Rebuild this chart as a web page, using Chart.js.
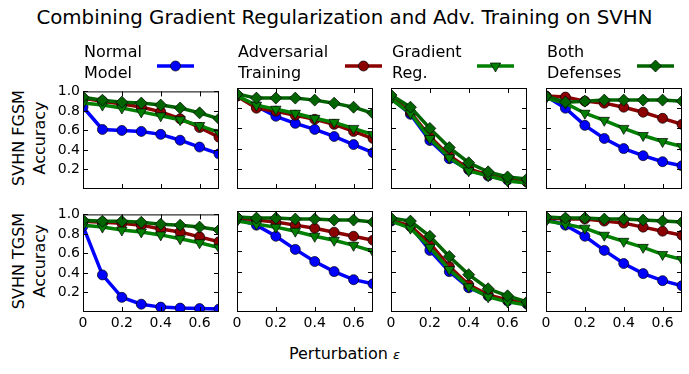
<!DOCTYPE html>
<html>
<head>
<meta charset="utf-8">
<script src="https://cdn.jsdelivr.net/npm/chart.js@4.4.0/dist/chart.umd.min.js"></script>
<style>
  body { margin: 0; background: #fff; }
  #fig { position: relative; width: 689px; height: 374px; overflow: hidden; font-family: "DejaVu Sans", sans-serif; color: #000; }
  .abs { position: absolute; white-space: nowrap; }
  .title { font-size: 19.8px; left: 0; width: 689px; text-align: center; top: 6px; line-height: 24px; }
  .leg { font-size: 16px; line-height: 20.6px; top: 42px; }
  .ylab { font-size: 16px; line-height: 21px; text-align: center; width: 200px; height: 42px; transform: rotate(-90deg); }
  .xlab { font-size: 16px; left: 0; width: 689px; text-align: center; top: 344px; line-height: 20px; }
  canvas { position: absolute; }
</style>
</head>
<body>
<div id="fig">
  <div class="abs title">Combining Gradient Regularization and Adv. Training on SVHN</div>
  <div class="abs ylab" style="left:-71.5px; top:117px;">SVHN FGSM<br>Accuracy</div>
  <div class="abs ylab" style="left:-71.5px; top:240px;">SVHN TGSM<br>Accuracy</div>
  <div class="abs xlab">Perturbation <i style="font-size:13px">ε</i></div>
</div>
<script>
const epsilons = [0, 0.1, 0.2, 0.3, 0.4, 0.5, 0.6, 0.7];
const xTicks = [0, 0.2, 0.4, 0.6];
const yTicks = [0.2, 0.4, 0.6, 0.8, 1.0];
const modelNames = ["Normal\nModel", "Adversarial\nTraining", "Gradient\nReg.", "Both\nDefenses"];

// each panel: [normal, adversarial, gradient reg, both] accuracy per epsilon
const fgsmFromNormal = [
  [0.84, 0.61, 0.60, 0.59, 0.56, 0.50, 0.43, 0.36],
  [0.93, 0.90, 0.87, 0.84, 0.79, 0.72, 0.63, 0.53],
  [0.88, 0.86, 0.83, 0.79, 0.75, 0.71, 0.65, 0.58],
  [0.94, 0.91, 0.89, 0.88, 0.86, 0.83, 0.78, 0.72],
];
const fgsmFromAdv = [
  [0.92, 0.82, 0.72, 0.65, 0.59, 0.52, 0.44, 0.36],
  [0.92, 0.80, 0.77, 0.73, 0.69, 0.64, 0.57, 0.50],
  [0.92, 0.83, 0.79, 0.75, 0.70, 0.66, 0.60, 0.54],
  [0.94, 0.90, 0.90, 0.90, 0.88, 0.85, 0.81, 0.75],
];
const fgsmFromGrad = [
  [0.90, 0.74, 0.48, 0.30, 0.19, 0.13, 0.09, 0.07],
  [0.91, 0.76, 0.52, 0.33, 0.20, 0.14, 0.10, 0.07],
  [0.89, 0.75, 0.50, 0.31, 0.18, 0.13, 0.08, 0.06],
  [0.93, 0.81, 0.60, 0.41, 0.26, 0.17, 0.12, 0.10],
];
const fgsmFromBoth = [
  [0.92, 0.80, 0.63, 0.50, 0.40, 0.33, 0.27, 0.23],
  [0.92, 0.91, 0.87, 0.85, 0.81, 0.76, 0.70, 0.64],
  [0.90, 0.85, 0.75, 0.68, 0.60, 0.53, 0.47, 0.42],
  [0.92, 0.86, 0.87, 0.88, 0.88, 0.88, 0.88, 0.87],
];
const tgsmFromNormal = [
  [0.88, 0.38, 0.15, 0.08, 0.05, 0.04, 0.035, 0.03],
  [0.93, 0.92, 0.91, 0.89, 0.85, 0.82, 0.77, 0.72],
  [0.89, 0.87, 0.84, 0.82, 0.79, 0.75, 0.71, 0.66],
  [0.94, 0.93, 0.93, 0.92, 0.90, 0.89, 0.87, 0.84],
];
const tgsmFromAdv = [
  [0.92, 0.86, 0.75, 0.62, 0.50, 0.40, 0.32, 0.28],
  [0.93, 0.91, 0.89, 0.86, 0.83, 0.79, 0.75, 0.71],
  [0.90, 0.87, 0.84, 0.80, 0.75, 0.71, 0.66, 0.60],
  [0.94, 0.93, 0.93, 0.92, 0.92, 0.91, 0.91, 0.89],
];
const tgsmFromGrad = [
  [0.90, 0.85, 0.61, 0.40, 0.24, 0.16, 0.11, 0.08],
  [0.91, 0.85, 0.68, 0.45, 0.27, 0.17, 0.12, 0.09],
  [0.90, 0.83, 0.64, 0.42, 0.25, 0.15, 0.10, 0.07],
  [0.93, 0.90, 0.75, 0.55, 0.37, 0.23, 0.16, 0.10],
];
const tgsmFromBoth = [
  [0.92, 0.86, 0.75, 0.61, 0.48, 0.38, 0.31, 0.26],
  [0.93, 0.92, 0.92, 0.90, 0.88, 0.84, 0.80, 0.76],
  [0.90, 0.87, 0.83, 0.76, 0.70, 0.64, 0.57, 0.52],
  [0.94, 0.93, 0.93, 0.92, 0.92, 0.91, 0.90, 0.89],
];

const panels = [
  [fgsmFromNormal, fgsmFromAdv, fgsmFromGrad, fgsmFromBoth],
  [tgsmFromNormal, tgsmFromAdv, tgsmFromGrad, tgsmFromBoth],
];

const colors = ["#0000ff", "#8b0000", "#008000", "#006400"];
const markers = ["circle", "circle", "triangle", "rectRot"];
const markerRadius = [5, 5, 6, 6];
const markerRotation = [0, 0, 180, 0];
const fontFamily = "'DejaVu Sans', sans-serif";

const colLefts = [83, 237, 391, 546];
const rowTops = [88, 211];
const plotW = 136;
const plotH = 101;
const padL = 45, padT = 8, padR = 8, padB = 26;

const fig = document.getElementById("fig");

const framePlugin = {
  id: "frame",
  afterDatasetsDraw(chart) {
    const { ctx, chartArea: a, scales } = chart;
    ctx.save();
    ctx.strokeStyle = "#000";
    ctx.lineWidth = 1;
    ctx.beginPath();
    for (const v of xTicks) {
      const px = Math.round(scales.x.getPixelForValue(v)) + 0.5;
      ctx.moveTo(px, a.top);
      ctx.lineTo(px, a.top + 5);
      ctx.moveTo(px, a.bottom);
      ctx.lineTo(px, a.bottom - 5);
    }
    for (const v of yTicks) {
      const py = Math.round(scales.y.getPixelForValue(v)) + 0.5;
      ctx.moveTo(a.left, py);
      ctx.lineTo(a.left + 5, py);
      ctx.moveTo(a.right, py);
      ctx.lineTo(a.right - 5, py);
    }
    ctx.stroke();
    ctx.strokeRect(a.left + 0.5, a.top + 0.5, a.right - a.left - 1, a.bottom - a.top - 1);
    ctx.restore();
  },
};

function makeDatasets(series) {
  return series.map((vals, i) => ({
    label: modelNames[i],
    data: vals.map((v, j) => ({ x: epsilons[j], y: v })),
    borderColor: colors[i],
    backgroundColor: colors[i],
    borderWidth: 3.5,
    pointStyle: markers[i],
    pointRadius: markerRadius[i],
    pointRotation: markerRotation[i],
    pointBorderColor: "#000",
    pointBorderWidth: 0.7,
    pointBackgroundColor: colors[i],
    tension: 0,
    clip: 0,
    order: 3 - i,
  }));
}

function drawPanel(row, col) {
  const canvas = document.createElement("canvas");
  const w = plotW + padL + padR;
  const h = plotH + padT + padB;
  canvas.width = w;
  canvas.height = h;
  canvas.style.left = colLefts[col] - padL + "px";
  canvas.style.top = rowTops[row] - padT + "px";
  canvas.style.width = w + "px";
  canvas.style.height = h + "px";
  fig.appendChild(canvas);
  new Chart(canvas, {
    type: "line",
    data: { datasets: makeDatasets(panels[row][col]) },
    plugins: [framePlugin],
    options: {
      responsive: false,
      animation: false,
      devicePixelRatio: 1,
      layout: { autoPadding: false, padding: { top: padT, right: padR, left: 0, bottom: 0 } },
      plugins: { legend: { display: false }, tooltip: { enabled: false } },
      scales: {
        x: {
          type: "linear",
          min: 0,
          max: 0.7,
          afterBuildTicks: (s) => { s.ticks = xTicks.map((v) => ({ value: v })); },
          afterFit: (s) => { s.height = padB; },
          grid: { display: false, drawTicks: false },
          border: { display: false },
          ticks: {
            display: row === 1,
            padding: 3,
            color: "#000",
            maxRotation: 0,
            autoSkip: false,
            font: { family: fontFamily, size: 14 },
            callback: (v) => (v === 0 ? "0" : v.toFixed(1)),
          },
        },
        y: {
          type: "linear",
          min: 0,
          max: 1,
          afterBuildTicks: (s) => { s.ticks = yTicks.map((v) => ({ value: v })); },
          afterFit: (s) => { s.width = padL; },
          grid: { display: false, drawTicks: false },
          border: { display: false },
          ticks: {
            display: col === 0,
            padding: 3,
            color: "#000",
            font: { family: fontFamily, size: 14 },
            callback: (v) => v.toFixed(1),
          },
        },
      },
    },
  });
}

function drawMarker(ctx, i, x, y) {
  const r = markerRadius[i];
  ctx.beginPath();
  if (markers[i] === "circle") {
    ctx.arc(x, y, r, 0, Math.PI * 2);
  } else if (markers[i] === "triangle") {
    for (let k = 0; k < 3; k++) {
      const a = Math.PI + (k * 2 * Math.PI) / 3;
      const px = x + Math.sin(a) * r;
      const py = y - Math.cos(a) * r;
      if (k === 0) ctx.moveTo(px, py);
      else ctx.lineTo(px, py);
    }
    ctx.closePath();
  } else {
    ctx.moveTo(x, y - r);
    ctx.lineTo(x + r, y);
    ctx.lineTo(x, y + r);
    ctx.lineTo(x - r, y);
    ctx.closePath();
  }
  ctx.fillStyle = colors[i];
  ctx.fill();
  ctx.lineWidth = 0.7;
  ctx.strokeStyle = "#000";
  ctx.stroke();
}

const legendLineX = [157, 345, 477, 637];
function drawLegend(i) {
  const txt = document.createElement("div");
  txt.className = "abs leg";
  txt.style.left = colLefts[i] + 1 + "px";
  txt.innerHTML = modelNames[i].replace("\n", "<br>");
  fig.appendChild(txt);
  const c = document.createElement("canvas");
  c.width = 42;
  c.height = 16;
  c.style.left = legendLineX[i] - 2 + "px";
  c.style.top = "58px";
  fig.appendChild(c);
  const ctx = c.getContext("2d");
  ctx.strokeStyle = colors[i];
  ctx.lineWidth = 3.5;
  ctx.beginPath();
  ctx.moveTo(2, 8);
  ctx.lineTo(39, 8);
  ctx.stroke();
  drawMarker(ctx, i, 20.5, 8);
}

for (let r = 0; r < 2; r++) {
  for (let c = 0; c < 4; c++) {
    drawPanel(r, c);
  }
}
for (let i = 0; i < 4; i++) {
  drawLegend(i);
}
</script>
</body>
</html>
